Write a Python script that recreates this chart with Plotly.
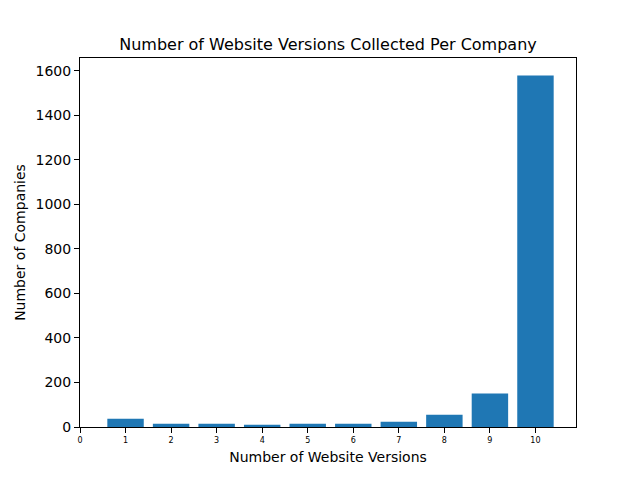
import plotly.graph_objects as go

versions = [1, 2, 3, 4, 5, 6, 7, 8, 9, 10]
companies = [37, 15, 15, 10, 15, 15, 24, 55, 150, 1578]
x_ticks = list(range(0, 11))
y_ticks = [0, 200, 400, 600, 800, 1000, 1200, 1400, 1600]

fig = go.Figure(go.Bar(x=versions, y=companies, width=0.8, marker=dict(color="#1f77b4", line=dict(width=0))))

font = "DejaVu Sans"
fig.update_layout(
    width=640, height=480,
    margin=dict(l=80, r=64, t=58, b=53),
    paper_bgcolor="white", plot_bgcolor="white",
    font=dict(family=font, color="black"),
    title=dict(text="Number of Website Versions Collected Per Company",
               x=0.5, xref="paper", xanchor="center",
               y=1, yref="paper", yanchor="bottom", pad=dict(b=8),
               font=dict(size=16, family=font, color="black")),
    showlegend=False,
)
fig.update_xaxes(
    range=[0, 10.89], tickvals=x_ticks, ticktext=[str(t) for t in x_ticks],
    tickfont=dict(size=8), ticks="outside", ticklen=5, tickwidth=1, tickcolor="black",
    showline=True, linecolor="black", linewidth=1, mirror=True,
    showgrid=False, zeroline=False,
    title=dict(text="Number of Website Versions", font=dict(size=14), standoff=8),
)
fig.update_yaxes(
    range=[0, 1657], tickvals=y_ticks,
    tickfont=dict(size=14), ticks="outside", ticklen=5, tickwidth=1, tickcolor="black",
    showline=True, linecolor="black", linewidth=1, mirror=True,
    showgrid=False, zeroline=False,
    title=dict(text="Number of Companies", font=dict(size=14), standoff=6),
)
fig.write_html("out.html")
